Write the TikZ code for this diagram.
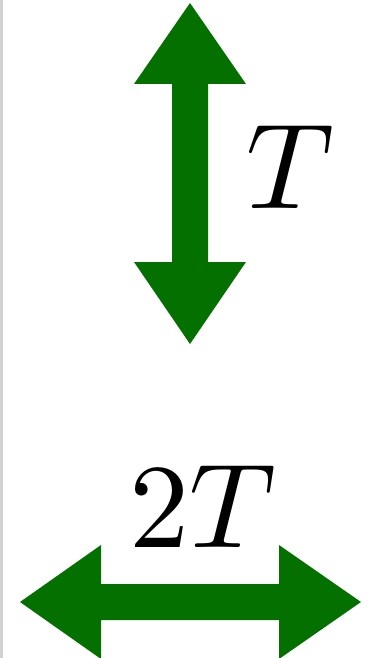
\documentclass[tikz,border=0pt]{standalone}
\usepackage{graphicx}
\definecolor{arrowgreen}{RGB}{3,112,0}
\definecolor{edgegrey}{RGB}{211,208,214}
\tikzset{
  bigarrow/.style={fill=arrowgreen, draw=none},
  biglabel/.style={inner sep=0pt, outer sep=0pt, text=black}
}
\begin{document}
\begin{tikzpicture}[x=1pt,y=-1pt]
\useasboundingbox (0,0) rectangle (367,658);
\fill[white] (0,0) rectangle (367,658);
\fill[edgegrey] (0,0) rectangle (3,658);
% vertical double arrow
\fill[bigarrow] (190,3) -- (246,84) -- (208,84) -- (208,262) -- (246,262) -- (190,344)
  -- (134,262) -- (172,262) -- (172,84) -- (134,84) -- cycle;
% horizontal double arrow
\fill[bigarrow] (20,602) -- (101,545) -- (101,584) -- (279,584) -- (279,545) -- (361,602)
  -- (279,659) -- (279,620) -- (101,620) -- (101,659) -- cycle;
\node[biglabel] (tlabel) at (290,166.5) {\scalebox{12.15}{$T$}};
\node[biglabel] (twotlabel) at (202.5,506.5) {\scalebox{12}{$2T$}};
\end{tikzpicture}
\end{document}
